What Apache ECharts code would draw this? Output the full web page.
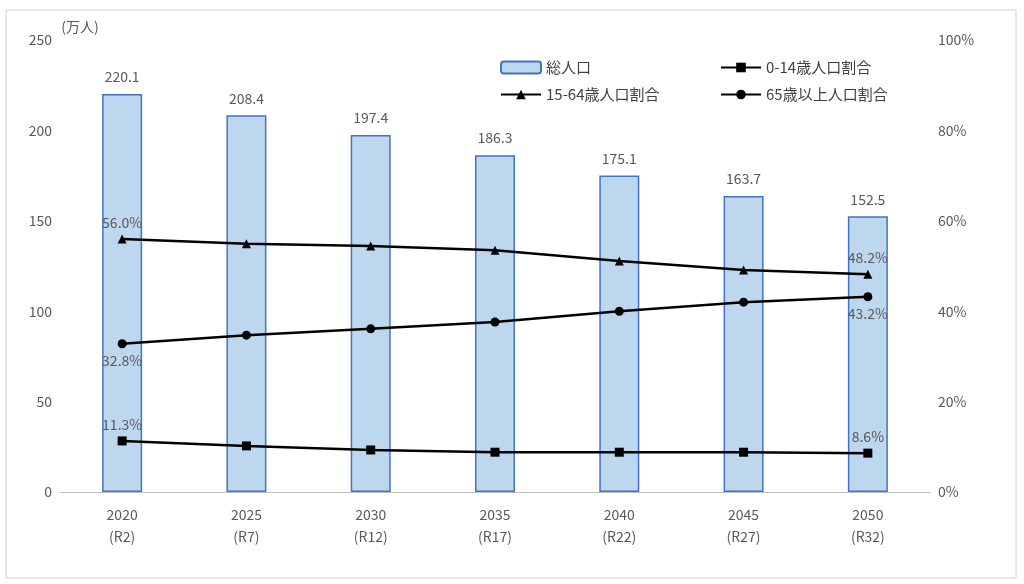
<!DOCTYPE html>
<html><head><meta charset="utf-8">
<script src="https://cdn.jsdelivr.net/npm/echarts@6/dist/echarts.min.js"></script>
<style>html,body{margin:0;background:#fff}#c{width:1024px;height:584px}</style>
</head><body><div id="c"></div>
<script>
const years = ['2020\n(R2)','2025\n(R7)','2030\n(R12)','2035\n(R17)','2040\n(R22)','2045\n(R27)','2050\n(R32)']
const total = [220.1, 208.4, 197.4, 186.3, 175.1, 163.7, 152.5]
const young = [11.3, 10.2, 9.3, 8.8, 8.8, 8.8, 8.6]
const working = [56.0, 54.9, 54.4, 53.5, 51.1, 49.1, 48.2]
const elderly = [32.8, 34.7, 36.1, 37.6, 40.0, 42.0, 43.2]

const font = '"Noto Sans CJK JP", sans-serif'
const edgeLabel = (pos) => ({
    show: true, position: pos, color: '#595959', fontSize: 14, fontFamily: font,
    formatter: p => (p.dataIndex === 0 || p.dataIndex === years.length - 1) ? p.value.toFixed(1) + '%' : ''
})
const lineSeries = (name, data, symbol, pos) => ({
    name, type: 'line', yAxisIndex: 1, data, symbol, symbolSize: 9,
    lineStyle: { color: '#000', width: 2.5 }, itemStyle: { color: '#000' },
    label: edgeLabel(pos), z: 5
})

const chart = echarts.init(document.getElementById('c'))
chart.setOption({
    animation: false,
    textStyle: { fontFamily: font },
    graphic: [{ type: 'rect', shape: { x: 6, y: 10, width: 1010, height: 568 }, style: { fill: 'none', stroke: '#d0d0d0', lineWidth: 1 } }],
    grid: { left: 60, right: 94, top: 40, bottom: 92 },
    legend: [
        { data: ['総人口', '15-64歳人口割合'], left: 495, top: 55, orient: 'vertical', itemGap: 12, itemWidth: 40, itemHeight: 12, textStyle: { fontSize: 15, color: '#404040' } },
        { data: ['0-14歳人口割合', '65歳以上人口割合'], left: 715, top: 55, orient: 'vertical', itemGap: 12, itemWidth: 40, itemHeight: 12, textStyle: { fontSize: 15, color: '#404040' } }
    ],
    xAxis: {
        type: 'category', data: years,
        axisLine: { lineStyle: { color: '#bfbfbf' } }, axisTick: { show: false },
        axisLabel: { color: '#595959', fontSize: 14, lineHeight: 22, margin: 12 }
    },
    yAxis: [
        { type: 'value', min: 0, max: 250, interval: 50, name: '(万人)', nameGap: 6,
          nameTextStyle: { color: '#595959', fontSize: 14, padding: [0, 0, 0, 40] },
          axisLabel: { color: '#595959', fontSize: 14 }, splitLine: { show: false } },
        { type: 'value', min: 0, max: 100, interval: 20,
          axisLabel: { color: '#595959', fontSize: 14, formatter: '{value}%' }, splitLine: { show: false } }
    ],
    series: [
        { name: '総人口', type: 'bar', data: total, barWidth: 40,
          itemStyle: { color: '#bdd7ee', borderColor: '#4472c4', borderWidth: 1.5 },
          label: { show: true, position: 'top', color: '#595959', fontSize: 14, distance: 10 } },
        lineSeries('0-14歳人口割合', young, 'rect', 'top'),
        lineSeries('15-64歳人口割合', working, 'triangle', 'top'),
        lineSeries('65歳以上人口割合', elderly, 'circle', 'bottom')
    ]
})
</script></body></html>
